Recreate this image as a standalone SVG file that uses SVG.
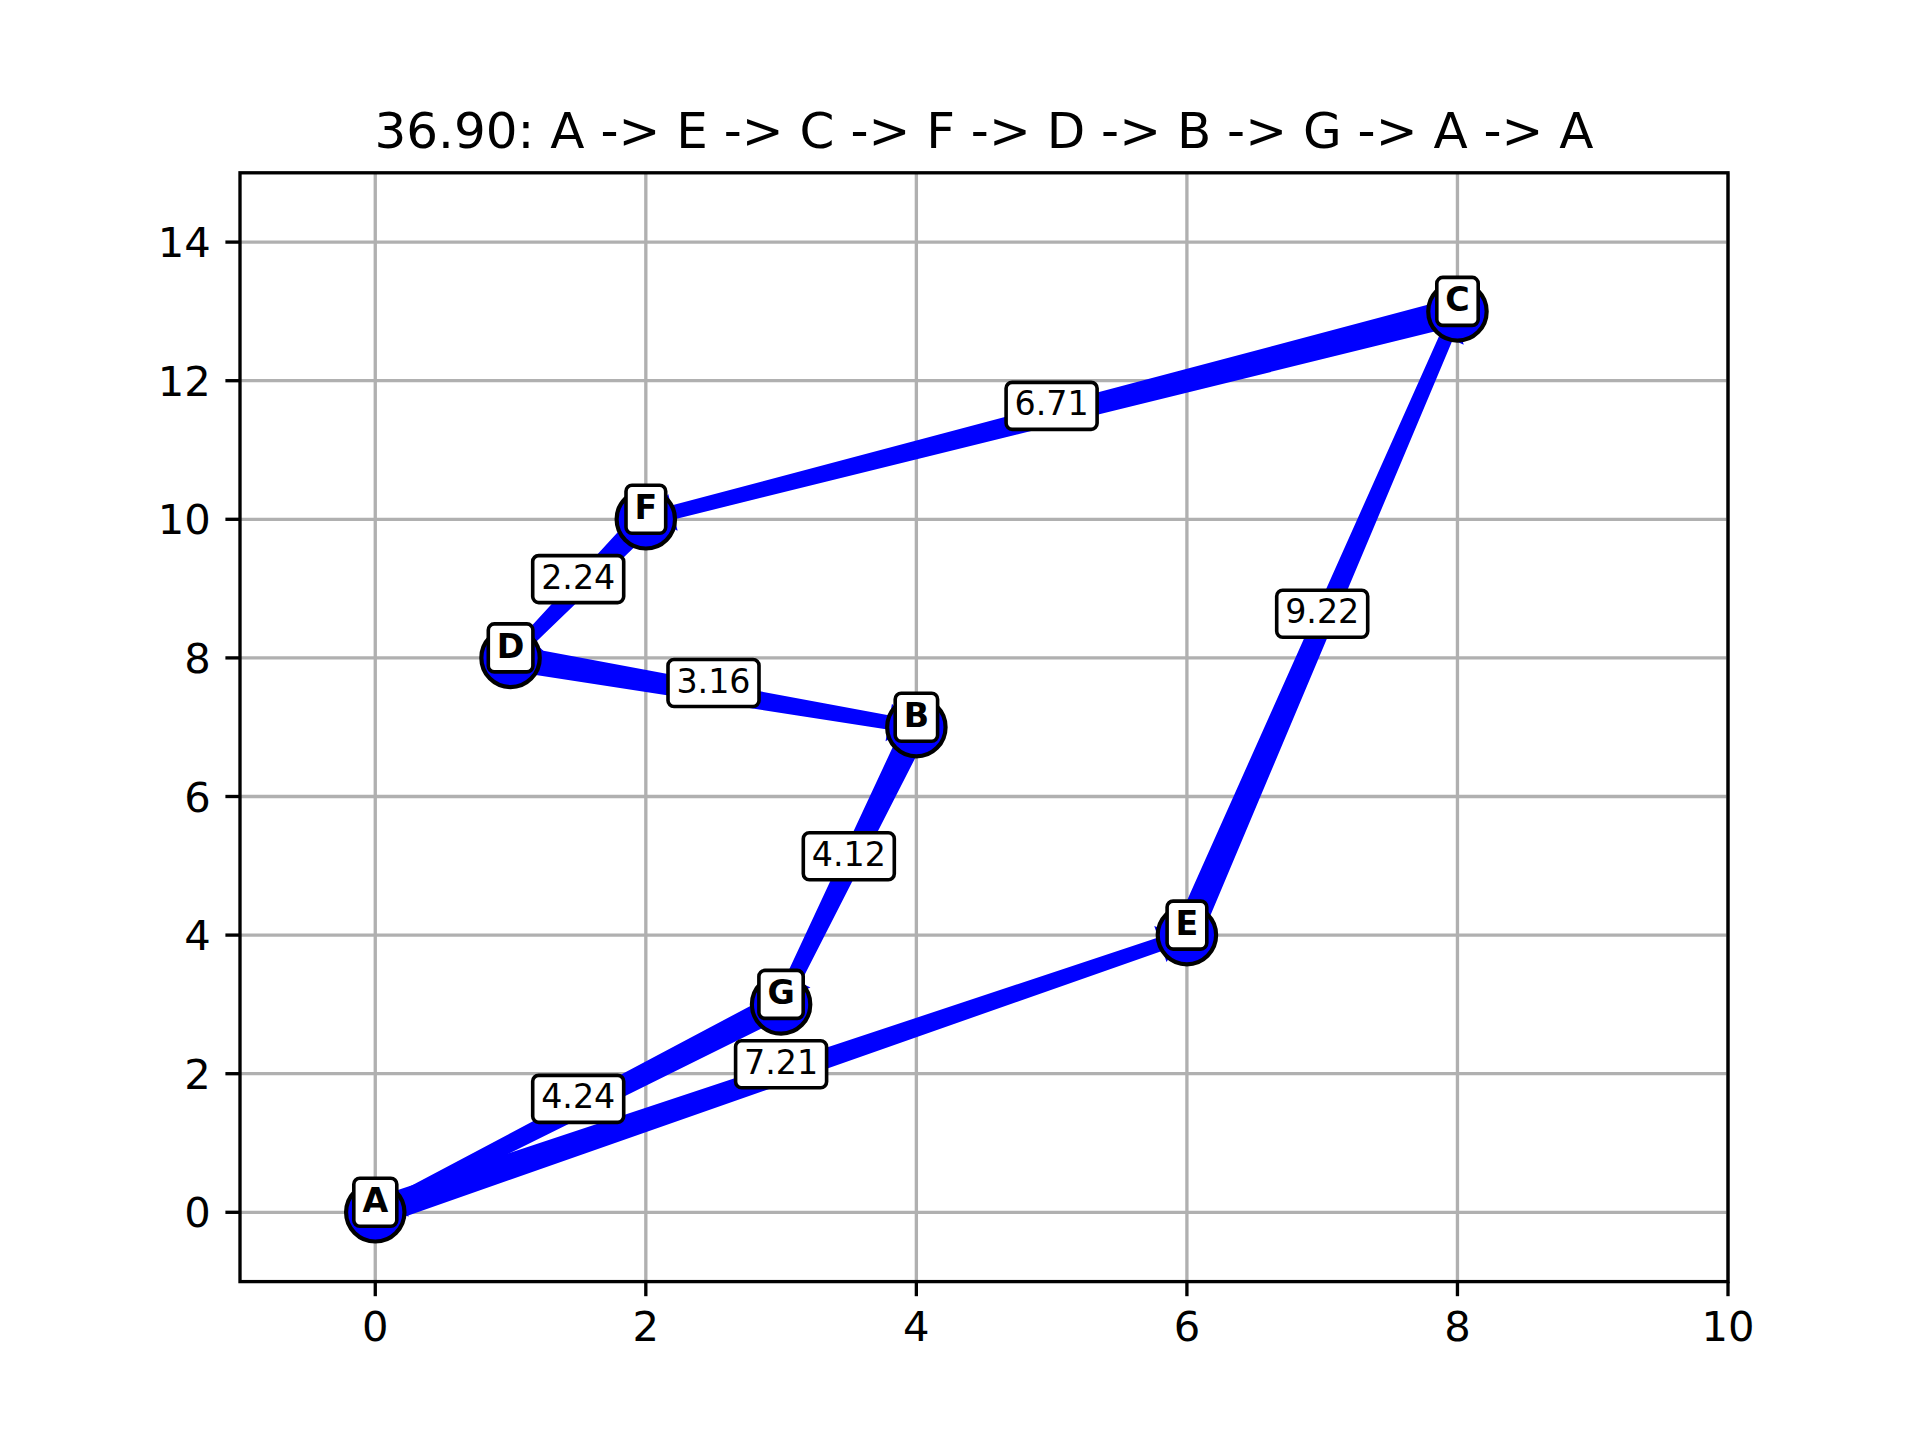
<svg xmlns="http://www.w3.org/2000/svg" width="1920" height="1440" viewBox="0 0 1920 1440">
<style>
.grid line{stroke:#b0b0b0;stroke-width:3.33}
.tick line{stroke:#000;stroke-width:3.33}
.ticklbl{font-family:"DejaVu Sans",sans-serif;font-size:41.7px;fill:#000}
.edge{fill:#0000ff}
.node circle{fill:#0000ff;stroke:#000;stroke-width:4.2}
.box{fill:#fff;stroke:#000;stroke-width:3.6}
.nt{font-family:"DejaVu Sans",sans-serif;font-weight:bold;font-size:33.3px;text-anchor:middle;fill:#000}
.et{font-family:"DejaVu Sans",sans-serif;font-size:33.3px;text-anchor:middle;fill:#000}
</style>
<rect x="0" y="0" width="1920" height="1440" fill="#fff"/>
<text x="984" y="147.8" font-family="DejaVu Sans, sans-serif" font-size="50px" text-anchor="middle">36.90: A -&gt; E -&gt; C -&gt; F -&gt; D -&gt; B -&gt; G -&gt; A -&gt; A</text>
<g class="grid">
<line x1="375.27" y1="172.8" x2="375.27" y2="1281.6"/>
<line x1="645.82" y1="172.8" x2="645.82" y2="1281.6"/>
<line x1="916.36" y1="172.8" x2="916.36" y2="1281.6"/>
<line x1="1186.91" y1="172.8" x2="1186.91" y2="1281.6"/>
<line x1="1457.45" y1="172.8" x2="1457.45" y2="1281.6"/>
<line x1="1728" y1="172.8" x2="1728" y2="1281.6"/>
<line x1="240" y1="1212.3" x2="1728" y2="1212.3"/>
<line x1="240" y1="1073.7" x2="1728" y2="1073.7"/>
<line x1="240" y1="935.1" x2="1728" y2="935.1"/>
<line x1="240" y1="796.5" x2="1728" y2="796.5"/>
<line x1="240" y1="657.9" x2="1728" y2="657.9"/>
<line x1="240" y1="519.3" x2="1728" y2="519.3"/>
<line x1="240" y1="380.7" x2="1728" y2="380.7"/>
<line x1="240" y1="242.1" x2="1728" y2="242.1"/>
</g>
<g id="edges">
<g id="edge-A-E" transform="translate(375.27,1212.3) rotate(-18.86)"><polygon class="edge" points="0,-14 829.67,-7 829.67,-19 852.67,0 829.67,19 829.67,7 0,14"/></g>
<g id="edge-E-C" transform="translate(1186.91,935.1) rotate(-66.55)"><polygon class="edge" points="0,-14 651.85,-7 651.85,-19 674.85,0 651.85,19 651.85,7 0,14"/></g>
<g id="edge-C-F" transform="translate(1457.45,311.4) rotate(165.63)"><polygon class="edge" points="0,-14 809.83,-7 809.83,-19 832.83,0 809.83,19 809.83,7 0,14"/></g>
<g id="edge-F-D" transform="translate(645.82,519.3) rotate(134.30)"><polygon class="edge" points="0,-12 165.67,-7 165.67,-19 188.67,0 165.67,19 165.67,7 0,12"/></g>
<g id="edge-D-B" transform="translate(510.55,657.9) rotate(9.69)"><polygon class="edge" points="0,-13 383.68,-7 383.68,-19 406.68,0 383.68,19 383.68,7 0,13"/></g>
<g id="edge-B-G" transform="translate(916.36,727.2) rotate(116.01)"><polygon class="edge" points="0,-13 280.44,-8 280.44,-19 303.44,0 280.44,19 280.44,8 0,13"/></g>
<g id="edge-G-A" transform="translate(781.09,1004.4) rotate(152.87)"><polygon class="edge" points="0,-13 427.97,-7 427.97,-19 450.97,0 427.97,19 427.97,7 0,13"/></g>
</g>
<g id="node-A" class="node"><circle cx="375.27" cy="1212.3" r="29.2"/><rect class="box" x="353.8" y="1178.3" width="43" height="48" rx="6"/><text class="nt" x="375.27" y="1212.3">A</text></g>
<g id="node-B" class="node"><circle cx="916.36" cy="727.2" r="29.2"/><rect class="box" x="895.2" y="693.2" width="42.4" height="48" rx="6"/><text class="nt" x="916.36" y="727.2">B</text></g>
<g id="node-C" class="node"><circle cx="1457.45" cy="311.4" r="29.2"/><rect class="box" x="1436.8" y="277.4" width="41.4" height="48" rx="6"/><text class="nt" x="1457.45" y="311.4">C</text></g>
<g id="node-D" class="node"><circle cx="510.55" cy="657.9" r="29.2"/><rect class="box" x="488.3" y="623.9" width="44.6" height="48" rx="6"/><text class="nt" x="510.55" y="657.9">D</text></g>
<g id="node-E" class="node"><circle cx="1186.91" cy="935.1" r="29.2"/><rect class="box" x="1167.1" y="901.1" width="39.7" height="48" rx="6"/><text class="nt" x="1186.91" y="935.1">E</text></g>
<g id="node-F" class="node"><circle cx="645.82" cy="519.3" r="29.2"/><rect class="box" x="626.0" y="485.3" width="39.7" height="48" rx="6"/><text class="nt" x="645.82" y="519.3">F</text></g>
<g id="node-G" class="node"><circle cx="781.09" cy="1004.4" r="29.2"/><rect class="box" x="758.9" y="970.4" width="44.3" height="48" rx="6"/><text class="nt" x="781.09" y="1004.4">G</text></g>
<g id="edge-labels">
<g><rect class="box" x="735.6" y="1040.7" width="91" height="47" rx="6"/><text class="et" x="781.1" y="1073.7">7.21</text></g>
<g><rect class="box" x="1276.7" y="590.25" width="91" height="47" rx="6"/><text class="et" x="1322.2" y="623.25">9.22</text></g>
<g><rect class="box" x="1006.1" y="382.35" width="91" height="47" rx="6"/><text class="et" x="1051.6" y="415.35">6.71</text></g>
<g><rect class="box" x="532.7" y="555.6" width="91" height="47" rx="6"/><text class="et" x="578.2" y="588.6">2.24</text></g>
<g><rect class="box" x="668.0" y="659.55" width="91" height="47" rx="6"/><text class="et" x="713.5" y="692.55">3.16</text></g>
<g><rect class="box" x="803.3" y="832.8" width="91" height="47" rx="6"/><text class="et" x="848.8" y="865.8">4.12</text></g>
<g><rect class="box" x="532.7" y="1075.35" width="91" height="47" rx="6"/><text class="et" x="578.2" y="1108.35">4.24</text></g>
</g>
<rect x="240" y="172.8" width="1488" height="1108.8" fill="none" stroke="#000" stroke-width="3.33"/>
<g class="tick">
<line x1="375.27" y1="1281.6" x2="375.27" y2="1296.2"/>
<line x1="645.82" y1="1281.6" x2="645.82" y2="1296.2"/>
<line x1="916.36" y1="1281.6" x2="916.36" y2="1296.2"/>
<line x1="1186.91" y1="1281.6" x2="1186.91" y2="1296.2"/>
<line x1="1457.45" y1="1281.6" x2="1457.45" y2="1296.2"/>
<line x1="1728" y1="1281.6" x2="1728" y2="1296.2"/>
<line x1="240" y1="1212.3" x2="225.4" y2="1212.3"/>
<line x1="240" y1="1073.7" x2="225.4" y2="1073.7"/>
<line x1="240" y1="935.1" x2="225.4" y2="935.1"/>
<line x1="240" y1="796.5" x2="225.4" y2="796.5"/>
<line x1="240" y1="657.9" x2="225.4" y2="657.9"/>
<line x1="240" y1="519.3" x2="225.4" y2="519.3"/>
<line x1="240" y1="380.7" x2="225.4" y2="380.7"/>
<line x1="240" y1="242.1" x2="225.4" y2="242.1"/>
</g>
<g class="ticklbl" text-anchor="middle">
<text x="375.27" y="1341">0</text>
<text x="645.82" y="1341">2</text>
<text x="916.36" y="1341">4</text>
<text x="1186.91" y="1341">6</text>
<text x="1457.45" y="1341">8</text>
<text x="1728" y="1341">10</text>
</g>
<g class="ticklbl" text-anchor="end">
<text x="210.8" y="1227.3">0</text>
<text x="210.8" y="1088.7">2</text>
<text x="210.8" y="950.1">4</text>
<text x="210.8" y="811.5">6</text>
<text x="210.8" y="672.9">8</text>
<text x="210.8" y="534.3">10</text>
<text x="210.8" y="395.7">12</text>
<text x="210.8" y="257.1">14</text>
</g>
</svg>
